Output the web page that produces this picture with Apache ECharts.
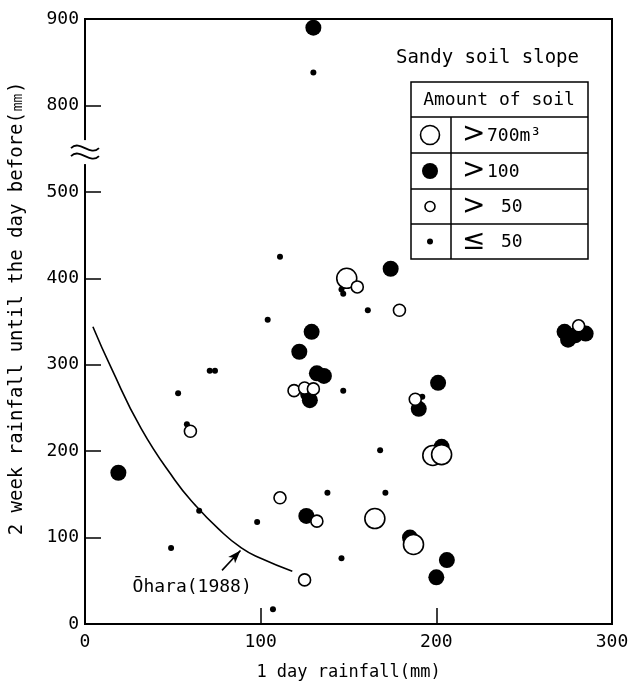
<!DOCTYPE html>
<html><head><meta charset="utf-8">
<script src="https://cdn.jsdelivr.net/npm/echarts@6/dist/echarts.min.js"></script>
<style>html,body{margin:0;padding:0;background:#fff}#c{width:644px;height:691px}</style>
</head><body><div id="c"></div>
<script>
// 1-day rainfall (mm), 2-week rainfall until the day before (mm)
var bigOpenX = [149, 165, 187, 198, 203];
var bigOpenY = [400, 122, 92, 195, 196];
var filledX = [130, 174, 129, 122, 132, 136, 127, 128, 201, 190, 203, 19, 126, 185, 206, 200, 273, 275, 279, 285];
var filledY = [890, 411, 338, 315, 290, 287, 266, 259, 279, 249, 205, 175, 125, 100, 74, 54, 338, 329, 334, 336];
var midOpenX = [155, 179, 119, 125, 130, 188, 60, 111, 132, 125, 281];
var midOpenY = [390, 363, 270, 273, 272, 260, 223, 146, 119, 51, 345];
var dotX = [130, 111, 104, 161, 146, 147, 147, 192, 168, 171, 138, 98, 146, 107, 71, 74, 53, 58, 65, 49];
var dotY = [838, 425, 352, 363, 387, 382, 270, 263, 201, 152, 152, 118, 76, 17, 293, 293, 267, 231, 131, 88];
var oharaX = [4.5, 15, 32, 51, 63, 76, 89, 100, 118];
var oharaY = [344, 296, 226, 167, 137, 110, 88, 76, 61];
var xTicks = [0, 100, 200, 300];
var yTickLabels = {0:'0',100:'100',200:'200',300:'300',400:'400',500:'500',600:'800',700:'900'};

// broken axis: 500..800 compressed into one interval
function mapY(v){ return v > 500 ? v - 200 : v; }
function pts(xs, ys){ return xs.map(function(x,i){ return [x, mapY(ys[i])]; }); }

var FONT = '"DejaVu Sans Mono", "Liberation Mono", monospace';
var chart = echarts.init(document.getElementById('c'), null, {renderer:'canvas'});
var option = {
  animation: false,
  backgroundColor: '#fff',
  grid: {left: 83, right: 32, top: 19, bottom: 67, show: true, borderColor: '#000', borderWidth: 2, backgroundColor: 'transparent'},
  xAxis: {
    type: 'value', min: 0, max: 300, interval: 100,
    name: '1 day rainfall(mm)', nameLocation: 'middle', nameGap: 40,
    nameTextStyle: {fontFamily: FONT, fontSize: 17, color: '#000'},
    axisLine: {lineStyle: {color: '#000', width: 2}},
    axisTick: {inside: true, length: 16, lineStyle: {color: '#000', width: 1.5}},
    axisLabel: {fontFamily: FONT, fontSize: 18, color: '#000', margin: 9},
    splitLine: {show: false}
  },
  yAxis: {
    type: 'value', min: 0, max: 700, interval: 100,
    name: '2 week rainfall until the day before(\u339C)', nameLocation: 'middle', nameGap: 58, nameRotate: 90,
    nameTextStyle: {fontFamily: FONT, fontSize: 19, color: '#000', padding: [0, 0, 0, 26]},
    axisLine: {lineStyle: {color: '#000', width: 2}},
    axisTick: {inside: true, length: 16, lineStyle: {color: '#000', width: 1.5}},
    axisLabel: {fontFamily: FONT, fontSize: 18, color: '#000', margin: 6,
      formatter: function(v){ return yTickLabels[v] !== undefined ? yTickLabels[v] : ''; }},
    splitLine: {show: false}
  },
  series: [
    {type: 'line', name: 'Ohara', data: pts(oharaX, oharaY), smooth: 0.5, showSymbol: false, symbol: 'none',
     lineStyle: {color: '#000', width: 1.6}, z: 1,
     markLine: {silent: true, symbol: ['none', 'arrow'], symbolSize: [7, 13], label: {show: false},
       lineStyle: {color: '#000', width: 1.6, type: 'solid'},
       data: [[{coord: [78, 62]}, {coord: [88.5, 85]}]]}},
    {type: 'scatter', name: '>100', data: pts(filledX, filledY), symbolSize: 16,
     itemStyle: {color: '#000', opacity: 1}, z: 2},
    {type: 'scatter', name: '<=50', data: pts(dotX, dotY), symbolSize: 6,
     itemStyle: {color: '#000', opacity: 1}, z: 3},
    {type: 'scatter', name: '>700', data: pts(bigOpenX, bigOpenY), symbolSize: 20,
     itemStyle: {color: '#fff', borderColor: '#000', borderWidth: 1.6, opacity: 1}, z: 4},
    {type: 'scatter', name: '>50', data: pts(midOpenX, midOpenY), symbolSize: 12,
     itemStyle: {color: '#fff', borderColor: '#000', borderWidth: 1.6, opacity: 1}, z: 5}
  ]
};
chart.setOption(option);

// decorations: axis break, annotation, legend table
var brk = chart.convertToPixel({gridIndex: 0}, [0, 546]);
var lab = chart.convertToPixel({gridIndex: 0}, [61, 43]);
function wave(y){
  return {type: 'bezierCurve', z: 100,
    shape: {x1: brk[0]-14, y1: y, x2: brk[0]+14, y2: y, cpx1: brk[0]-5, cpy1: y-9, cpx2: brk[0]+5, cpy2: y+9},
    style: {stroke: '#000', lineWidth: 1.8, fill: null}};
}
var txt = {fontFamily: FONT, fontSize: 18, fill: '#000'};
function t(x, y, s, extra){
  var st = Object.assign({text: s, x: x, y: y, verticalAlign: 'middle'}, txt, extra || {});
  return {type: 'text', z: 100, style: st};
}
var L = 411, R = 588, rows = [82, 117, 153, 189, 224, 259], VX = 451, SX = 430;
var g = [
  {type: 'rect', z: 99, shape: {x: brk[0]-6, y: brk[1]-12, width: 12, height: 24}, style: {fill: '#fff'}},
  wave(brk[1]-4), wave(brk[1]+4),
  t(lab[0], lab[1], '\u014Chara(1988)', {align: 'center', fontSize: 18}),
  t(579, 58, 'Sandy soil slope', {align: 'right', fontSize: 19}),
  {type: 'rect', z: 100, shape: {x: L, y: rows[0], width: R-L, height: rows[5]-rows[0]}, style: {fill: '#fff', stroke: '#000', lineWidth: 1.5}},
  {type: 'line', z: 101, shape: {x1: VX, y1: rows[1], x2: VX, y2: rows[5]}, style: {stroke: '#000', lineWidth: 1.5}},
  t(499, 100, 'Amount of soil', {align: 'center', fontSize: 18})
];
for (var i = 1; i <= 4; i++) g.push({type: 'line', z: 101, shape: {x1: L, y1: rows[i], x2: R, y2: rows[i]}, style: {stroke: '#000', lineWidth: 1.5}});
var cy = [135, 171, 206.5, 241.5];
g.push({type: 'circle', z: 102, shape: {cx: SX, cy: cy[0], r: 9.5}, style: {fill: '#fff', stroke: '#000', lineWidth: 1.6}});
g.push({type: 'circle', z: 102, shape: {cx: SX, cy: cy[1], r: 8}, style: {fill: '#000'}});
g.push({type: 'circle', z: 102, shape: {cx: SX, cy: cy[2], r: 5}, style: {fill: '#fff', stroke: '#000', lineWidth: 1.6}});
g.push({type: 'circle', z: 102, shape: {cx: SX, cy: cy[3], r: 3}, style: {fill: '#000'}});
var SYM = {fontFamily: '"DejaVu Sans", sans-serif', fontSize: 28, fontWeight: 'normal'};
g.push(t(462, cy[0], '>', SYM));
g.push(t(462, cy[1], '>', SYM));
g.push(t(462, cy[2], '>', SYM));
g.push(t(462, cy[3], '\u2264', SYM));
g.push(t(487, cy[0]+1, '700m\u00B3', {fontSize: 18}));
g.push(t(487, cy[1]+1, '100', {fontSize: 18}));
g.push(t(501, cy[2]+1, '50', {fontSize: 18}));
g.push(t(501, cy[3]+1, '50', {fontSize: 18}));
chart.setOption({graphic: {elements: g}});
</script></body></html>
